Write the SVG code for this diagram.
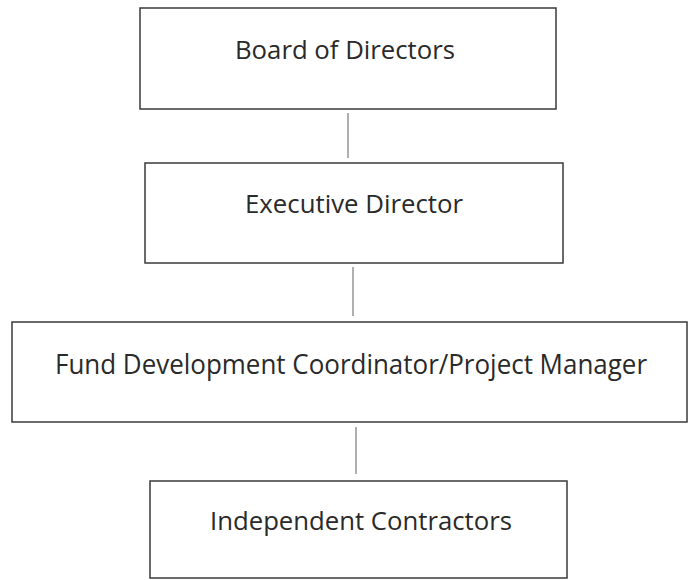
<svg xmlns="http://www.w3.org/2000/svg" width="688" height="580" viewBox="0 0 688 580">
<style>
.box{fill:#fff;stroke:#3a3a3a;stroke-width:1.5}
.lbl{font-family:"Open Sans","Noto Sans",sans-serif;font-size:25.5px;fill:#2a2a2a}
.con{stroke:#7a7a7a;stroke-width:1.2;fill:none}
</style>
<rect width="688" height="580" fill="#fff"/>
<g id="connectors">
<line class="con" x1="348" y1="113" x2="348" y2="158"/>
<line class="con" x1="353" y1="267" x2="353" y2="316"/>
<line class="con" x1="356" y1="427" x2="356" y2="474"/>
</g>
<g id="board">
<rect class="box" x="140" y="8" width="416" height="101"/>
<text class="lbl" x="235" y="59" textLength="220" lengthAdjust="spacingAndGlyphs">Board of Directors</text>
</g>
<g id="executive">
<rect class="box" x="145" y="163" width="418" height="100"/>
<text class="lbl" x="245" y="213" textLength="218" lengthAdjust="spacingAndGlyphs">Executive Director</text>
</g>
<g id="fund">
<rect class="box" x="12" y="322" width="675" height="100"/>
<text class="lbl" x="55" y="374" textLength="592" lengthAdjust="spacingAndGlyphs" style="font-size:26.5px">Fund Development Coordinator/Project Manager</text>
</g>
<g id="contractors">
<rect class="box" x="150" y="481" width="417" height="97"/>
<text class="lbl" x="210" y="530" textLength="302" lengthAdjust="spacingAndGlyphs">Independent Contractors</text>
</g>
</svg>
